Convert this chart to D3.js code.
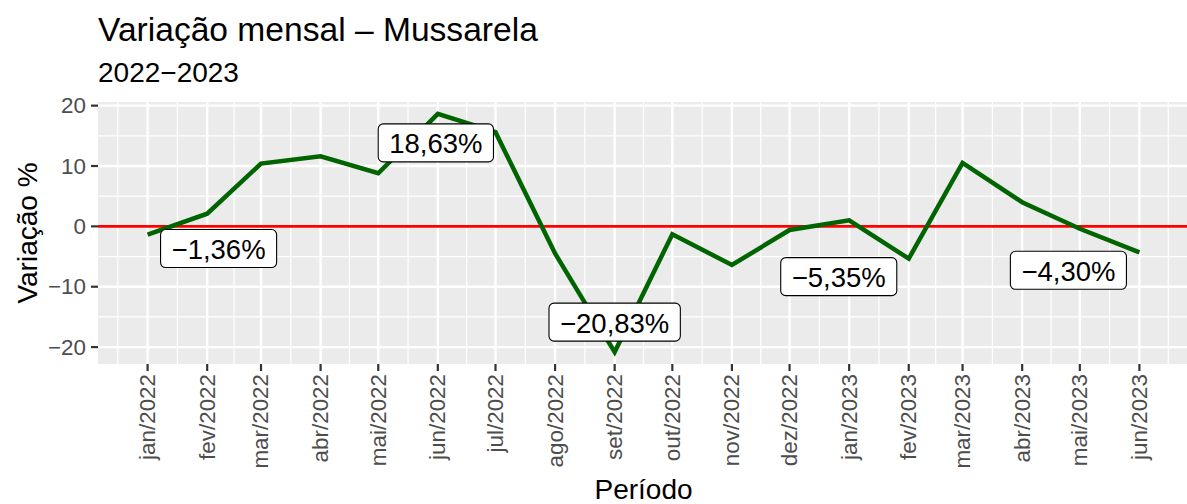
<!DOCTYPE html>
<html>
<head>
<meta charset="utf-8">
<script src="https://cdn.jsdelivr.net/npm/d3@7"></script>
<style>
  html, body { margin: 0; padding: 0; background: #fff; }
  svg { display: block; font-family: "Liberation Sans", Arial, Helvetica, sans-serif; }
</style>
</head>
<body>
<svg id="chart" width="1187" height="504"></svg>
<script>
// ---- Data ----
const months = ["2022-01","2022-02","2022-03","2022-04","2022-05","2022-06","2022-07","2022-08","2022-09",
                "2022-10","2022-11","2022-12","2023-01","2023-02","2023-03","2023-04","2023-05","2023-06"];
const monthNames = ["jan","fev","mar","abr","mai","jun","jul","ago","set","out","nov","dez"];
const values = [-1.36, 2.1, 10.4, 11.6, 8.8, 18.63, 15.6, -4.5, -20.83, -1.3, -6.4, -0.6, 1.0, -5.35, 10.5, 4.0, -0.4, -4.30];
const labelledMonths = ["2022-01","2022-06","2022-09","2023-02","2023-06"];
const yTicks = [-20, -10, 0, 10, 20];
const yMinor = [-15, -5, 5, 15];
const titleText = "Variação mensal – Mussarela";
const subtitleText = "2022−2023";
const xTitle = "Período";
const yTitle = "Variação %";

// label placement offsets (pixels, repel-like) — layout, not data
const labelOffsets = {"2022-01":[71,14],"2022-06":[-2,29],"2022-09":[0,-30],"2023-02":[-70,18],"2023-06":[-71,18]};

const parse = d3.utcParse("%Y-%m");
const data = months.map((m, i) => ({key: m, date: parse(m), value: values[i]}));

const svg = d3.select("#chart");
const panel = {left: 98, right: 1189, top: 102, bottom: 364};

// scales with ggplot-style 5% expansion
const dExt = d3.extent(data, d => d.date);
const dSpan = dExt[1] - dExt[0];
const x = d3.scaleUtc()
  .domain([new Date(+dExt[0] - 0.05 * dSpan), new Date(+dExt[1] + 0.05 * dSpan)])
  .range([panel.left, panel.right]);
const vExt = d3.extent(values);
const vSpan = vExt[1] - vExt[0];
const y = d3.scaleLinear()
  .domain([vExt[0] - 0.05 * vSpan, vExt[1] + 0.05 * vSpan])
  .range([panel.bottom, panel.top]);

const fmtTick = v => (v < 0 ? "\u2212" : "") + Math.abs(v);
const fmtPct = v => (v < 0 ? "\u2212" : "") + Math.abs(v).toFixed(2).replace(".", ",") + "%";
const fmtMonth = d => monthNames[d.getUTCMonth()] + "/" + d.getUTCFullYear();

// panel background
svg.append("rect")
  .attr("x", panel.left).attr("y", panel.top)
  .attr("width", panel.right - panel.left).attr("height", panel.bottom - panel.top)
  .attr("fill", "#EBEBEB");

// grid
const g = svg.append("g");
const majorDates = data.map(d => d.date);
const allMonths = d3.utcMonth.range(d3.utcMonth.offset(dExt[0], -1), d3.utcMonth.offset(dExt[1], 2));
const minorDates = [];
for (let i = 0; i < allMonths.length - 1; i++) {
  const mid = new Date((+allMonths[i] + +allMonths[i + 1]) / 2);
  if (x(mid) >= panel.left && x(mid) <= panel.right) minorDates.push(mid);
}
g.selectAll(".ymin").data(yMinor).enter().append("line")
  .attr("x1", panel.left).attr("x2", panel.right)
  .attr("y1", d => y(d)).attr("y2", d => y(d))
  .attr("stroke", "#fff").attr("stroke-width", 1.2);
g.selectAll(".xmin").data(minorDates).enter().append("line")
  .attr("x1", d => x(d)).attr("x2", d => x(d))
  .attr("y1", panel.top).attr("y2", panel.bottom)
  .attr("stroke", "#fff").attr("stroke-width", 1.2);
g.selectAll(".ymaj").data(yTicks).enter().append("line")
  .attr("x1", panel.left).attr("x2", panel.right)
  .attr("y1", d => y(d)).attr("y2", d => y(d))
  .attr("stroke", "#fff").attr("stroke-width", 2.4);
g.selectAll(".xmaj").data(majorDates).enter().append("line")
  .attr("x1", d => x(d)).attr("x2", d => x(d))
  .attr("y1", panel.top).attr("y2", panel.bottom)
  .attr("stroke", "#fff").attr("stroke-width", 2.4);

// zero line
svg.append("line")
  .attr("x1", panel.left).attr("x2", panel.right)
  .attr("y1", y(0)).attr("y2", y(0))
  .attr("stroke", "#FF0000").attr("stroke-width", 2.6);

// series line
svg.append("path").datum(data)
  .attr("d", d3.line().x(d => x(d.date)).y(d => y(d.value)))
  .attr("fill", "none").attr("stroke", "#006400").attr("stroke-width", 4.5)
  .attr("stroke-linejoin", "miter");

// labels
const labs = data.filter(d => labelledMonths.includes(d.key));
const lg = svg.selectAll(".lab").data(labs).enter().append("g")
  .attr("transform", d => {
    const o = labelOffsets[d.key];
    return `translate(${x(d.date) + o[0]},${y(d.value) + o[1]})`;
  });
lg.each(function(d) {
  const gg = d3.select(this);
  const rect = gg.append("rect");
  const t = gg.append("text")
    .attr("text-anchor", "middle").attr("dominant-baseline", "central")
    .attr("font-size", 27.5).attr("fill", "#000")
    .text(fmtPct(d.value));
  const w = t.node().getComputedTextLength() + 22;
  const h = 38;
  rect.attr("x", -w / 2).attr("y", -h / 2).attr("width", w).attr("height", h)
    .attr("rx", 5).attr("ry", 5)
    .attr("fill", "#fff").attr("stroke", "#000").attr("stroke-width", 1.1);
  t.attr("y", 1);
});

// y axis
const ya = svg.append("g");
ya.selectAll("line").data(yTicks).enter().append("line")
  .attr("x1", panel.left - 7).attr("x2", panel.left)
  .attr("y1", d => y(d)).attr("y2", d => y(d))
  .attr("stroke", "#333333").attr("stroke-width", 2.2);
ya.selectAll("text").data(yTicks).enter().append("text")
  .attr("x", panel.left - 12).attr("y", d => y(d))
  .attr("text-anchor", "end").attr("dominant-baseline", "central")
  .attr("font-size", 22.4).attr("fill", "#4D4D4D")
  .text(fmtTick);

// x axis
const xa = svg.append("g");
xa.selectAll("line").data(majorDates).enter().append("line")
  .attr("x1", d => x(d)).attr("x2", d => x(d))
  .attr("y1", panel.bottom).attr("y2", panel.bottom + 7)
  .attr("stroke", "#333333").attr("stroke-width", 2.2);
xa.selectAll("text").data(majorDates).enter().append("text")
  .attr("transform", d => `translate(${x(d)},${panel.bottom + 10}) rotate(-90)`)
  .attr("text-anchor", "end").attr("dominant-baseline", "central")
  .attr("font-size", 22.4).attr("fill", "#4D4D4D")
  .text(fmtMonth);

// titles
svg.append("text").attr("x", panel.left).attr("y", 41)
  .attr("font-size", 33.6).attr("fill", "#000").text(titleText);
svg.append("text").attr("x", panel.left).attr("y", 82)
  .attr("font-size", 28).attr("fill", "#000").text(subtitleText);
svg.append("text").attr("x", (panel.left + panel.right) / 2).attr("y", 499)
  .attr("text-anchor", "middle").attr("font-size", 28).attr("fill", "#000").text(xTitle);
svg.append("text")
  .attr("transform", `translate(37,${(panel.top + panel.bottom) / 2}) rotate(-90)`)
  .attr("text-anchor", "middle").attr("font-size", 28).attr("fill", "#000").text(yTitle);
</script>
</body>
</html>
